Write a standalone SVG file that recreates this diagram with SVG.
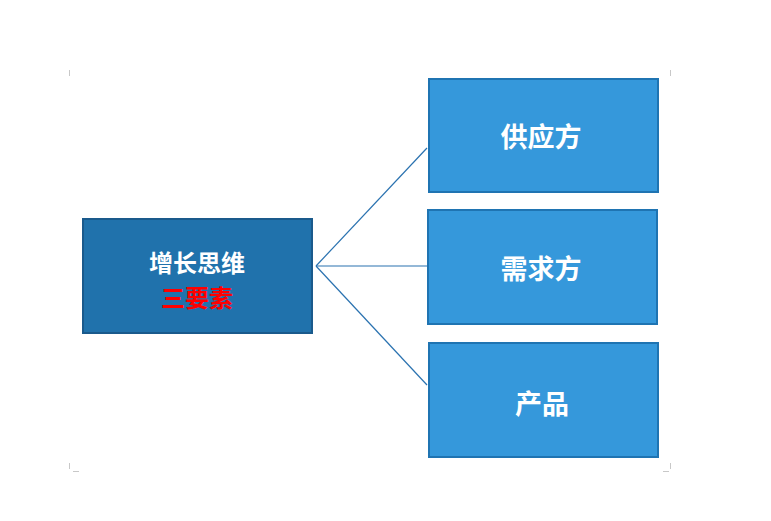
<svg xmlns="http://www.w3.org/2000/svg" width="771" height="521" viewBox="0 0 771 521">
<style>
.t{font-family:"Noto Sans CJK SC","Noto Sans",sans-serif;font-weight:bold;text-anchor:middle;dominant-baseline:central}
.rb{fill:#3598DB;stroke:#1F74B2;stroke-width:2}
.c{stroke:#2A72B0;stroke-width:1.2;fill:none}
.m{stroke:#C8C8C8;stroke-width:1}
</style>
<rect width="771" height="521" fill="#FFFFFF"/>
<g id="marks">
<line class="m" x1="69.5" y1="70" x2="69.5" y2="76"/>
<line class="m" x1="670.5" y1="70" x2="670.5" y2="76"/>
<line class="m" x1="69.5" y1="463" x2="69.5" y2="469"/>
<line class="m" x1="73" y1="471.5" x2="79" y2="471.5"/>
<line class="m" x1="670.5" y1="463" x2="670.5" y2="469"/>
<line class="m" x1="663" y1="471.5" x2="669" y2="471.5"/>
</g>
<g id="connectors">
<line class="c" x1="316" y1="266" x2="427" y2="148"/>
<line class="c" x1="316" y1="266" x2="427" y2="266"/>
<line class="c" x1="316" y1="266" x2="427" y2="385"/>
</g>
<g id="main">
<rect x="83" y="219" width="229" height="114" fill="#2072AC" stroke="#1A5A8C" stroke-width="2"/>
<text class="t" x="197" y="261" font-size="24" fill="#FFFFFF">增长思维</text>
<text class="t" x="197" y="296" font-size="24" fill="#FF0000">三要素</text>
</g>
<g id="supply">
<rect class="rb" x="429" y="79" width="229" height="113"/>
<text class="t" x="541" y="135" font-size="27" fill="#FFFFFF">供应方</text>
</g>
<g id="demand">
<rect class="rb" x="428" y="210" width="229" height="114"/>
<text class="t" x="541" y="267" font-size="27" fill="#FFFFFF">需求方</text>
</g>
<g id="product">
<rect class="rb" x="429" y="343" width="229" height="114"/>
<text class="t" x="542" y="402" font-size="27" fill="#FFFFFF">产品</text>
</g>
</svg>
